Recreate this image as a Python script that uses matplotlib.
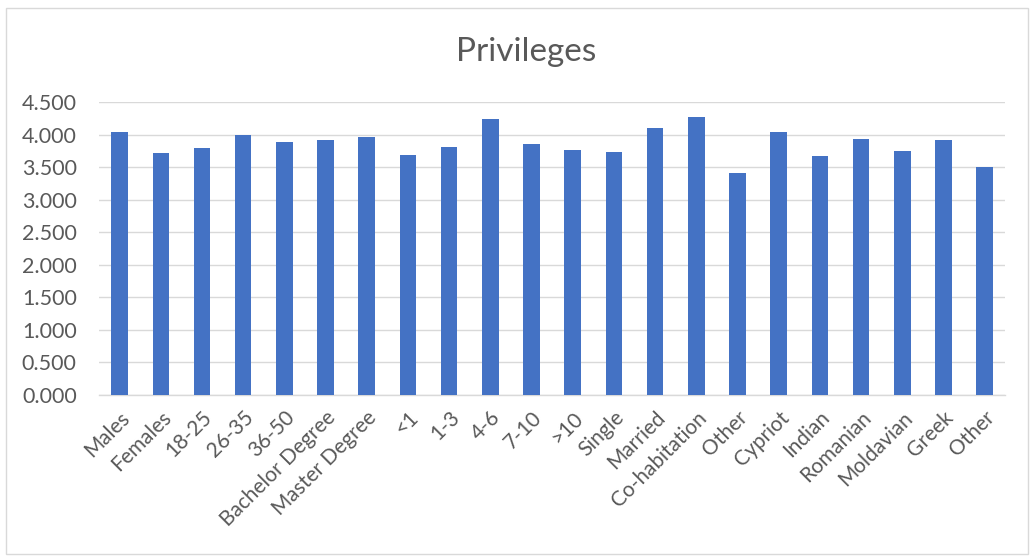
import matplotlib.pyplot as plt
from matplotlib.patches import Rectangle

categories = ['Males', 'Females', '18-25', '26-35', '36-50', 'Bachelor Degree',
              'Master Degree', '<1', '1-3', '4-6', '7-10', '>10', 'Single',
              'Married', 'Co-habitation', 'Other', 'Cypriot', 'Indian',
              'Romanian', 'Moldavian', 'Greek', 'Other']
values = [4.034, 3.712, 3.793, 3.988, 3.880, 3.921, 3.962, 3.686, 3.809, 4.243,
          3.855, 3.758, 3.732, 4.095, 4.269, 3.415, 4.044, 3.676, 3.931, 3.747,
          3.916, 3.497]
yticks = [0, 0.5, 1.0, 1.5, 2.0, 2.5, 3.0, 3.5, 4.0, 4.5]

plt.rcParams['font.family'] = ['Lato', 'DejaVu Sans']

fig = plt.figure(figsize=(10.34, 5.56), dpi=100)
ax = fig.add_axes([0.0957, 0.2896, 0.8765, 0.5269])

x = list(range(len(categories)))
ax.bar(x, values, width=0.4, color='#4472C4', zorder=3)

ax.set_xlim(-0.5, len(categories) - 0.5)
ax.set_ylim(0, 4.5)
ax.set_yticks(yticks)
ax.set_yticklabels([f'{v:.3f}' for v in yticks], fontsize=15.5, color='#595959')
ax.set_xticks(x)
ax.set_xticklabels(categories, rotation=45, ha='right', rotation_mode='anchor',
                   fontsize=15, color='#595959')
ax.tick_params(axis='y', length=0, pad=16)
ax.tick_params(axis='x', length=0, pad=9)

ax.grid(axis='y', color='#d9d9d9', linewidth=1, zorder=0)
for s in ['top', 'right', 'left']:
    ax.spines[s].set_visible(False)
ax.spines['bottom'].set_color('#d9d9d9')
ax.spines['bottom'].set_linewidth(1)

fig.text(0.509, 0.907, 'Privileges', ha='center', va='center', fontsize=24,
         color='#595959')

fig.patches.append(Rectangle((0.006, 0.004), 0.988, 0.982, transform=fig.transFigure,
                             fill=False, edgecolor='#d9d9d9', linewidth=1))

fig.savefig('out.png', dpi=100)
